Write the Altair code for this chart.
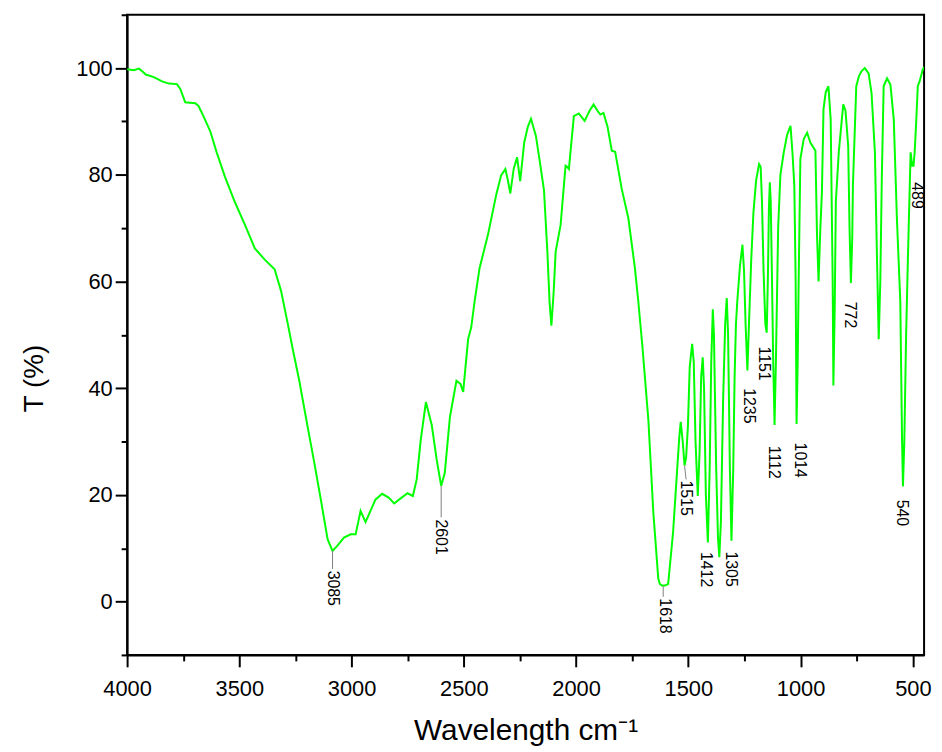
import altair as alt
import pandas as pd

# ---- spectrum (wavenumber cm-1, transmittance %) ----
wavenumber = [4000, 3970, 3947, 3930, 3917, 3881, 3844, 3814, 3778, 3763, 3741, 3720, 3696, 3682,
              3660, 3630, 3601, 3564, 3520, 3475, 3431, 3387, 3343, 3314, 3284, 3262, 3233, 3196,
              3166, 3137, 3107, 3085, 3063, 3034, 3004, 2982, 2960, 2938, 2894, 2864, 2835, 2810,
              2783, 2751, 2727, 2710, 2692, 2669, 2643, 2621, 2601, 2585, 2562, 2533, 2515, 2503,
              2481, 2467, 2452, 2430, 2415, 2393, 2356, 2334, 2315, 2305, 2293, 2278, 2263, 2249,
              2231, 2215, 2201, 2179, 2160, 2143, 2128, 2118, 2110, 2100, 2091, 2069, 2047, 2040,
              2032, 2010, 1988, 1962, 1940, 1922, 1905, 1892, 1878, 1860, 1841, 1826, 1797, 1767,
              1738, 1723, 1705, 1678, 1656, 1634, 1627, 1618, 1605, 1590, 1568, 1549, 1540, 1534,
              1525, 1517, 1510, 1502, 1494, 1483, 1476, 1468, 1458, 1450, 1443, 1436, 1430, 1422,
              1413, 1405, 1398, 1391, 1386, 1376, 1368, 1362, 1355, 1345, 1336, 1329, 1323, 1315,
              1308, 1300, 1294, 1288, 1282, 1270, 1259, 1252, 1245, 1237, 1230, 1220, 1210, 1198,
              1185, 1178, 1172, 1165, 1157, 1151, 1146, 1141, 1137, 1133, 1128, 1122, 1116, 1110,
              1100, 1090, 1075, 1060, 1045, 1036, 1028, 1022, 1018, 1013, 1008, 1001, 986, 971,
              956, 934, 927, 920, 912, 905, 898, 888, 876, 866, 857, 854, 848, 843, 830, 810,
              800, 788, 782, 776, 770, 767, 752, 740, 729, 714, 697, 684, 669, 660, 652, 645,
              638, 630, 615, 600, 585, 571, 556, 548, 544, 538, 530, 522, 510, 503, 497, 492,
              485, 478, 470, 456, 450]
transmittance = [99.8, 99.6, 99.9, 99.3, 98.8, 98.3, 97.5, 97.1, 97.0, 96.1, 93.6, 93.5, 93.4, 92.9,
                 91.0, 88.2, 84.2, 79.6, 74.9, 70.6, 66.2, 64.1, 62.3, 58.2, 52.0, 47.3, 41.4, 32.8,
                 26.0, 19.1, 11.7, 9.5, 10.5, 12.0, 12.6, 12.6, 17.0, 14.9, 19.1, 20.2, 19.5, 18.4,
                 19.3, 20.3, 19.8, 22.9, 30.3, 37.4, 33.1, 26.6, 21.7, 24.1, 34.6, 41.4, 40.8, 39.3,
                 49.2, 51.4, 56.3, 62.5, 65.0, 68.7, 76.2, 79.9, 81.1, 79.2, 76.5, 81.1, 83.3, 78.8,
                 86.1, 89.0, 90.5, 87.3, 82.0, 77.1, 65.6, 56.0, 51.7, 58.0, 65.6, 70.6, 81.7, 81.5,
                 81.1, 91.0, 91.5, 90.1, 92.0, 93.2, 92.0, 91.3, 91.6, 89.0, 84.5, 84.3, 77.4, 71.8,
                 62.5, 56.3, 48.0, 34.0, 16.7, 4.3, 3.3, 3.0, 3.0, 3.3, 13.0, 25.3, 31.0, 33.7,
                 30.0, 25.5, 27.0, 32.8, 43.9, 48.3, 45.0, 30.0, 19.8, 28.0, 42.0, 45.8, 40.0, 20.0,
                 11.1, 25.0, 45.0, 54.8, 50.0, 25.0, 12.0, 8.3, 15.0, 38.0, 52.0, 56.9, 50.0, 25.0,
                 11.4, 25.0, 42.0, 52.0, 56.3, 63.0, 66.9, 62.0, 52.0, 43.3, 52.0, 64.0, 73.0, 79.0,
                 82.0, 81.5, 75.0, 62.0, 52.0, 50.4, 60.0, 74.0, 78.6, 75.0, 62.0, 45.0, 33.1, 45.0,
                 70.0, 80.0, 84.2, 87.5, 89.2, 84.0, 78.0, 60.0, 33.3, 45.0, 62.0, 83.0, 86.7, 87.9,
                 86.0, 84.5, 68.8, 60.0, 70.0, 76.8, 92.3, 95.5, 96.6, 90.4, 59.4, 40.5, 55.0, 75.0,
                 84.2, 93.2, 92.0, 85.4, 70.0, 59.7, 68.0, 78.0, 96.6, 98.5, 99.4, 100.0, 99.0, 95.3,
                 84.2, 65.0, 49.2, 60.0, 80.0, 96.6, 98.1, 96.9, 90.4, 71.8, 56.3, 30.0, 21.6, 30.0,
                 50.0, 64.4, 84.2, 81.7, 81.7, 84.2, 90.0, 96.6, 97.5, 99.7, 100.2]

# ---- peak annotations ----
labels = ["3085", "2601", "1618", "1515", "1412", "1305", "1235", "1151", "1112", "1014", "772", "540", "489"]
label_x = [3085, 2601, 1603, 1510, 1420, 1308, 1229, 1162, 1119, 1004, 779, 550, 483]
label_y = [5.8, 15.4, 0.6, 22.7, 9.3, 9.4, 40.0, 47.8, 29.2, 29.8, 56.2, 19.1, 78.6]

# leader lines
lead_x1 = [3085, 2601, 1612, 1517]
lead_y1 = [9.5, 21.7, 3.0, 25.5]
lead_x2 = [3085, 2601, 1612, 1510]
lead_y2 = [6.1, 15.8, 0.9, 22.9]

# axis ticks (major ones carry labels, minor ones are shorter and unlabeled)
x_ticks = [4000, 3750, 3500, 3250, 3000, 2750, 2500, 2250, 2000, 1750, 1500, 1250, 1000, 750, 500]
y_ticks = [-10, 0, 10, 20, 30, 40, 50, 60, 70, 80, 90, 100, 110]

spec = pd.DataFrame({"w": wavenumber, "t": transmittance})
lab = pd.DataFrame({"w": label_x, "t": label_y, "label": labels})
lead = pd.DataFrame({"w": lead_x1, "t": lead_y1, "w2": lead_x2, "t2": lead_y2})

FONT = "Liberation Sans"
xscale = alt.Scale(domain=[450, 4000], reverse=True, nice=False, zero=False)
yscale = alt.Scale(domain=[-10, 110], nice=False, zero=False)

x_axis = alt.Axis(values=x_ticks, format="d",
                  tickSize={"condition": {"test": "datum.value % 500 === 0", "value": 12}, "value": 6},
                  labelExpr="datum.value % 500 === 0 ? datum.label : ''",
                  tickWidth=2, tickColor="black",
                  domainColor="black", domainWidth=2, grid=False,
                  labelFontSize=22, labelFont=FONT, labelColor="black", labelPadding=12,
                  labelFlush=False, labelOverlap=False,
                  title="Wavelength cm\u207b\u00b9", titleFontSize=30, titleFont=FONT,
                  titleFontWeight="normal", titleColor="black", titlePadding=16, orient="bottom")
y_axis = alt.Axis(values=y_ticks, format="d",
                  tickSize={"condition": {"test": "datum.value % 20 === 0", "value": 12}, "value": 6},
                  labelExpr="datum.value % 20 === 0 ? datum.label : ''",
                  tickWidth=2, tickColor="black",
                  domainColor="black", domainWidth=2, grid=False,
                  labelFontSize=22, labelFont=FONT, labelColor="black", labelPadding=3,
                  labelFlush=False, labelOverlap=False,
                  title="T (%)", titleFontSize=28, titleFont=FONT, titleFontWeight="normal",
                  titleColor="black", titlePadding=28, titleY=366, orient="left")

line = alt.Chart(spec).mark_line(color="#00ff00", strokeWidth=2, clip=True).encode(
    x=alt.X("w:Q", scale=xscale, axis=x_axis),
    y=alt.Y("t:Q", scale=yscale, axis=y_axis),
    order="o:Q",
).transform_window(o="row_number()")

leaders = alt.Chart(lead).mark_rule(color="#808080", strokeWidth=1).encode(
    x="w:Q", y="t:Q", x2="w2:Q", y2="t2:Q"
)

texts = alt.Chart(lab).mark_text(angle=90, align="left", baseline="middle",
                                 fontSize=16, font=FONT, color="black").encode(
    x="w:Q", y="t:Q", text="label:N"
)

chart = alt.layer(line, leaders, texts).properties(
    width=803, height=645,
    background="white",
    autosize=alt.AutoSizeParams(type="none"),
    padding={"left": 120, "top": 4, "right": 10, "bottom": 95},
).configure_view(stroke="black", strokeWidth=2)

chart.save("out.html", embed_options={"renderer": "svg", "actions": False})
